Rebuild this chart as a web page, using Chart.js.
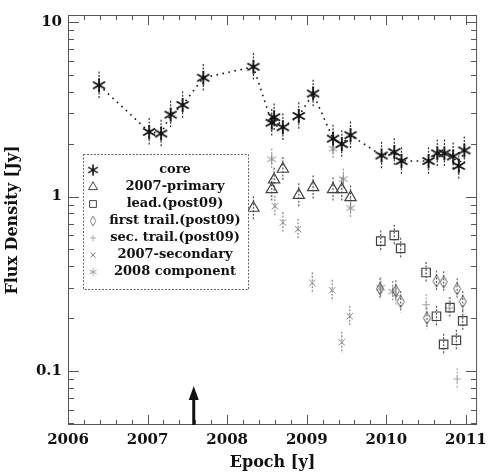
<!DOCTYPE html>
<html>
<head>
<meta charset="utf-8">
<script src="https://cdn.jsdelivr.net/npm/chart.js@4.4.0/dist/chart.umd.min.js"></script>
<style>
  html, body { margin: 0; padding: 0; background: #fff; }
  #wrap { width: 493px; height: 473px; }
</style>
</head>
<body>
<div id="wrap"><canvas id="flux-chart" width="493" height="473"></canvas></div>
<script>
// epochs [y] and flux densities [Jy]
const coreEpoch = [2006.39, 2007.02, 2007.17, 2007.29, 2007.44, 2007.70, 2008.33, 2008.56, 2008.59, 2008.70, 2008.90, 2009.08, 2009.33, 2009.44, 2009.55, 2009.94, 2010.10, 2010.19, 2010.53, 2010.64, 2010.73, 2010.84, 2010.91, 2010.98];
const coreFlux = [4.35, 2.35, 2.3, 2.95, 3.35, 4.8, 5.55, 2.65, 2.85, 2.5, 2.9, 3.9, 2.15, 2.0, 2.25, 1.72, 1.8, 1.6, 1.6, 1.77, 1.77, 1.7, 1.5, 1.84];

const primEpoch = [2008.33, 2008.56, 2008.59, 2008.70, 2008.90, 2009.08, 2009.33, 2009.44, 2009.55];
const primFlux = [0.86, 1.1, 1.25, 1.44, 1.02, 1.13, 1.1, 1.1, 0.99];

const leadEpoch = [2009.93, 2010.10, 2010.18, 2010.50, 2010.63, 2010.72, 2010.80, 2010.88, 2010.96];
const leadFlux = [0.555, 0.6, 0.505, 0.367, 0.206, 0.142, 0.231, 0.15, 0.194];

const firstEpoch = [2009.92, 2010.12, 2010.18, 2010.51, 2010.63, 2010.72, 2010.89, 2010.96];
const firstFlux = [0.296, 0.288, 0.25, 0.201, 0.328, 0.324, 0.296, 0.25];

const secEpoch = [2010.12, 2010.50, 2010.79, 2010.89];
const secFlux = [0.27, 0.24, 0.23, 0.09];

const sec2007Epoch = [2008.60, 2008.70, 2008.89, 2009.07, 2009.32, 2009.44, 2009.54];
const sec2007Flux = [0.88, 0.71, 0.65, 0.32, 0.29, 0.146, 0.206];

const comp2008Epoch = [2008.56, 2009.33, 2009.46, 2009.55, 2009.93, 2010.08];
const comp2008Flux = [1.64, 1.88, 1.26, 0.86, 0.30, 0.285];

const seriesNames = ['core', '2007-primary', 'lead.(post09)', 'first trail.(post09)', 'sec. trail.(post09)', '2007-secondary', '2008 component'];

const yMajorLabels = [0.1, 1, 10];
const arrowEpoch = 2007.58;
const arrowTip = 0.082;

function pts(xs, ys) {
    return xs.map(function (x, i) { return {x: x, y: ys[i]}; });
}

function asterisk(r, color, lw) {
    const c = document.createElement('canvas');
    const s = Math.ceil(2 * r + lw + 2);
    c.width = s; c.height = s;
    const g = c.getContext('2d');
    g.strokeStyle = color;
    g.lineWidth = lw;
    g.translate(s / 2, s / 2);
    for (let k = 0; k < 3; k++) {
        const a = Math.PI / 2 + k * Math.PI / 3;
        g.beginPath();
        g.moveTo(r * Math.cos(a), r * Math.sin(a));
        g.lineTo(-r * Math.cos(a), -r * Math.sin(a));
        g.stroke();
    }
    return c;
}

function diamond(w, h, color) {
    const c = document.createElement('canvas');
    c.width = w + 3; c.height = h + 3;
    const g = c.getContext('2d');
    g.strokeStyle = color;
    g.lineWidth = 1;
    const cx = c.width / 2, cy = c.height / 2;
    g.beginPath();
    g.moveTo(cx, cy - h / 2);
    g.lineTo(cx + w / 2, cy);
    g.lineTo(cx, cy + h / 2);
    g.lineTo(cx - w / 2, cy);
    g.closePath();
    g.stroke();
    return c;
}

const coreMark = asterisk(7, '#111', 1.8);
const compMark = asterisk(5, '#888', 1);
const diaMark = diamond(7, 12, '#555');

const errorBars = {
    id: 'errorBars',
    beforeDatasetsDraw(chart) {
        const ctx = chart.ctx;
        const ys = chart.scales.y;
        chart.data.datasets.forEach(function (ds, i) {
            const meta = chart.getDatasetMeta(i);
            ctx.save();
            ctx.strokeStyle = ds.errColor;
            ctx.lineWidth = 1.2;
            ctx.setLineDash([2, 1.5]);
            meta.data.forEach(function (p, j) {
                const v = ds.data[j].y;
                ctx.beginPath();
                ctx.moveTo(p.x, ys.getPixelForValue(v * (1 + ds.err)));
                ctx.lineTo(p.x, ys.getPixelForValue(v / (1 + ds.err)));
                ctx.stroke();
            });
            ctx.restore();
        });
    }
};

const frameTicks = {
    id: 'frameTicks',
    afterDraw(chart) {
        const ctx = chart.ctx;
        const a = chart.chartArea;
        const xs = chart.scales.x, ys = chart.scales.y;
        ctx.save();
        ctx.strokeStyle = '#555';
        ctx.lineWidth = 1;
        ctx.strokeRect(a.left + 0.5, a.top + 0.5, a.right - a.left - 1, a.bottom - a.top - 1);
        ctx.beginPath();
        xs.ticks.forEach(function (t) {
            const px = Math.round(xs.getPixelForValue(t.value)) + 0.5;
            const len = Math.abs(t.value - Math.round(t.value)) < 1e-6 ? 10 : 5;
            ctx.moveTo(px, a.bottom); ctx.lineTo(px, a.bottom - len);
            ctx.moveTo(px, a.top); ctx.lineTo(px, a.top + len);
        });
        ys.ticks.forEach(function (t) {
            const py = Math.round(ys.getPixelForValue(t.value)) + 0.5;
            const len = yMajorLabels.indexOf(t.value) >= 0 ? 11 : 6;
            ctx.moveTo(a.left, py); ctx.lineTo(a.left + len, py);
            ctx.moveTo(a.right, py); ctx.lineTo(a.right - len, py);
        });
        ctx.stroke();

        // arrow marking the epoch
        const ax = xs.getPixelForValue(arrowEpoch);
        const ay = ys.getPixelForValue(arrowTip);
        ctx.strokeStyle = '#111';
        ctx.fillStyle = '#111';
        ctx.lineWidth = 3;
        ctx.beginPath();
        ctx.moveTo(ax, a.bottom);
        ctx.lineTo(ax, ay + 10);
        ctx.stroke();
        ctx.beginPath();
        ctx.moveTo(ax, ay);
        ctx.lineTo(ax - 5, ay + 14);
        ctx.lineTo(ax + 5, ay + 14);
        ctx.closePath();
        ctx.fill();
        ctx.restore();
    }
};

const boxLegend = {
    id: 'boxLegend',
    afterDraw(chart) {
        const ctx = chart.ctx;
        const bx = 83, by = 154, bw = 165, bh = 135;
        ctx.save();
        ctx.fillStyle = '#fff';
        ctx.fillRect(bx, by, bw, bh);
        ctx.strokeStyle = '#666';
        ctx.lineWidth = 1;
        ctx.setLineDash([2, 1.5]);
        ctx.strokeRect(bx + 0.5, by + 0.5, bw, bh);
        ctx.setLineDash([]);
        ctx.font = 'bold 13px "DejaVu Serif"';
        ctx.textAlign = 'center';
        ctx.textBaseline = 'middle';
        chart.data.datasets.forEach(function (ds, i) {
            const ry = 170 + 17 * i;
            const mx = 93;
            if (ds.pointStyle instanceof HTMLCanvasElement) {
                const c = ds.pointStyle;
                ctx.drawImage(c, mx - c.width * 0.4, ry - c.height * 0.4, c.width * 0.8, c.height * 0.8);
            } else {
                ctx.strokeStyle = ds.pointBorderColor;
                ctx.fillStyle = 'rgba(255,255,255,0)';
                Chart.helpers.drawPoint(ctx, {pointStyle: ds.pointStyle, radius: ds.pointRadius * 0.8, rotation: 0, borderWidth: 1}, mx, ry);
            }
            ctx.fillStyle = '#111';
            ctx.fillText(ds.label, 175, ry);
        });
        ctx.restore();
    }
};

const ctx = document.getElementById('flux-chart').getContext('2d');
const fluxChart = new Chart(ctx, {
    type: 'scatter',
    data: {
        datasets: [{
            label: seriesNames[0],
            data: pts(coreEpoch, coreFlux),
            showLine: true,
            borderColor: '#111',
            borderWidth: 1.6,
            borderDash: [1.6, 4.5],
            pointStyle: coreMark,
            pointBorderColor: '#111',
            err: 0.2, errColor: '#333'
        }, {
            label: seriesNames[1],
            data: pts(primEpoch, primFlux),
            pointStyle: 'triangle',
            pointRadius: 6.5,
            pointBorderWidth: 1.2,
            pointBorderColor: '#444',
            pointBackgroundColor: 'rgba(255,255,255,0)',
            err: 0.17, errColor: '#555'
        }, {
            label: seriesNames[2],
            data: pts(leadEpoch, leadFlux),
            pointStyle: 'rect',
            pointRadius: 6,
            pointBorderWidth: 1.2,
            pointBorderColor: '#444',
            pointBackgroundColor: 'rgba(255,255,255,0)',
            err: 0.15, errColor: '#555'
        }, {
            label: seriesNames[3],
            data: pts(firstEpoch, firstFlux),
            pointStyle: diaMark,
            pointBorderColor: '#555',
            err: 0.15, errColor: '#666'
        }, {
            label: seriesNames[4],
            data: pts(secEpoch, secFlux),
            pointStyle: 'cross',
            pointRadius: 4,
            pointBorderWidth: 1,
            pointBorderColor: '#aaa',
            err: 0.15, errColor: '#aaa'
        }, {
            label: seriesNames[5],
            data: pts(sec2007Epoch, sec2007Flux),
            pointStyle: 'crossRot',
            pointRadius: 4.5,
            pointBorderWidth: 1,
            pointBorderColor: '#888',
            err: 0.15, errColor: '#888'
        }, {
            label: seriesNames[6],
            data: pts(comp2008Epoch, comp2008Flux),
            pointStyle: compMark,
            pointBorderColor: '#888',
            err: 0.15, errColor: '#999'
        }]
    },
    options: {
        responsive: false,
        animation: false,
        layout: { padding: { top: 4, right: 7, left: 0, bottom: 0 } },
        plugins: { legend: false, tooltip: { enabled: false } },
        scales: {
            x: {
                type: 'linear',
                min: 2006,
                max: 2011.14,
                grid: { display: false, drawTicks: false },
                border: { display: false },
                afterFit: function (scale) { scale.height = 48; },
                afterBuildTicks: function (scale) {
                    const t = [];
                    for (let k = 0; k <= 25; k++) t.push({ value: Math.round((2006 + k * 0.2) * 10) / 10 });
                    scale.ticks = t;
                },
                ticks: {
                    padding: 6,
                    maxRotation: 0,
                    autoSkip: false,
                    color: '#111',
                    font: { family: 'DejaVu Serif', size: 15, weight: 'bold' },
                    callback: function (v) { return Math.abs(v - Math.round(v)) < 1e-6 ? String(Math.round(v)) : ''; }
                },
                title: {
                    display: true,
                    text: 'Epoch [y]',
                    color: '#111',
                    padding: { top: 0, bottom: 1 },
                    font: { family: 'DejaVu Serif', size: 16, weight: 'bold' }
                }
            },
            y: {
                type: 'logarithmic',
                min: 0.049,
                max: 11,
                grid: { display: false, drawTicks: false },
                border: { display: false },
                afterFit: function (scale) { scale.width = 68; },
                afterBuildTicks: function (scale) {
                    const t = [];
                    [0.01, 0.1, 1].forEach(function (d) {
                        for (let m = 1; m <= 9; m++) {
                            const v = Number((m * d).toPrecision(2));
                            if (v >= 0.049 && v <= 11) t.push({ value: v });
                        }
                    });
                    t.push({ value: 10 });
                    scale.ticks = t;
                },
                ticks: {
                    padding: 6,
                    autoSkip: false,
                    color: '#111',
                    font: { family: 'DejaVu Serif', size: 15, weight: 'bold' },
                    callback: function (v) { return yMajorLabels.indexOf(v) >= 0 ? String(v) : ''; }
                },
                title: {
                    display: true,
                    text: 'Flux Density [Jy]',
                    color: '#111',
                    padding: { top: 3, bottom: 0 },
                    font: { family: 'DejaVu Serif', size: 16, weight: 'bold' }
                }
            }
        }
    },
    plugins: [errorBars, frameTicks, boxLegend]
});
</script>
</body>
</html>
